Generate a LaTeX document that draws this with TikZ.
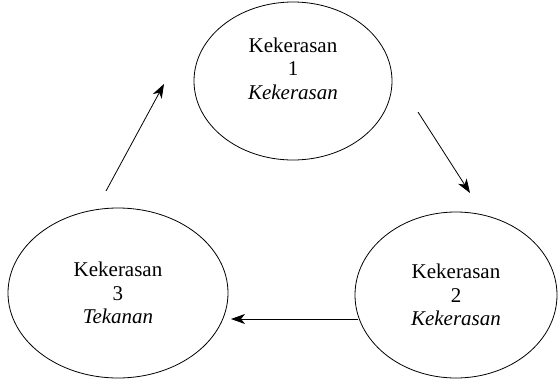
\documentclass[tikz,border=0pt]{standalone}
\usepackage{fontspec}
\setmainfont{Liberation Serif}
\usetikzlibrary{shapes.geometric, arrows.meta}

\tikzset{
  lingkaran/.style={draw, ellipse, line width=0.8pt, inner sep=0pt, align=center,
    font=\fontsize{21}{23.5}\selectfont},
  panah/.style={line width=0.8pt, -{Stealth[length=14pt, width=10pt, inset=4pt]}}
}

\begin{document}
\begin{tikzpicture}[x=1pt, y=-1pt]
				\useasboundingbox (0,0) rectangle (558,381);
				
				\node[lingkaran, minimum width=198pt, minimum height=158pt] (k1) at (293,81)
					{Kekerasan\\1\\\textit{Kekerasan}\\[2pt]};
				
				\node[lingkaran, minimum width=202pt, minimum height=166pt] (k2) at (456,295)
					{Kekerasan\\2\\\textit{Kekerasan}};
				
				\node[lingkaran, minimum width=220pt, minimum height=170pt] (k3) at (118,293)
					{Kekerasan\\3\\\textit{Tekanan}};
				
				\coordinate (a1) at (106,191);
				\coordinate (b1) at (164,84);
				\draw[panah] (a1) -- (b1);
				
				\coordinate (a2) at (418,112);
				\coordinate (b2) at (470,193);
				\draw[panah] (a2) -- (b2);
				
				\coordinate (a3) at (358,319);
				\coordinate (b3) at (231,319);
				\draw[panah] (a3) -- (b3);
			\end{tikzpicture}
\end{document}
